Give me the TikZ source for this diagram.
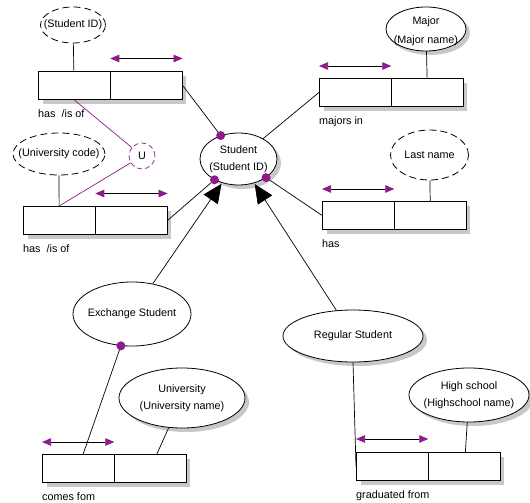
\documentclass[tikz,border=0pt]{standalone}
\usepackage{fontspec}
\setmainfont{Liberation Sans}
\usetikzlibrary{shapes.geometric,arrows.meta}
\definecolor{erpurple}{RGB}{140,28,140}
\definecolor{shadowgray}{RGB}{200,200,200}

\tikzset{
  roletip/.tip={Triangle[length=9pt,width=7.5pt,color=erpurple]},
  isatip/.tip={Triangle[length=19pt,width=17pt]},
}

\begin{document}
\begin{tikzpicture}[x=1pt,y=-1pt,
  every node/.style={font=\fontsize{10.8}{17.5}\selectfont},
  line/.style={line width=0.7pt},
  shadowfill/.style={fill=shadowgray, draw=none},
  ent/.style={ellipse, draw, line width=0.8pt, fill=white, inner sep=0pt},
  keyattr/.style={ent, dash pattern=on 7pt off 4pt},
  etext/.style={align=center, inner sep=0pt},
  cell/.style={rectangle, draw, line width=0.8pt, fill=white, minimum width=71.5pt,
    minimum height=28pt, inner sep=0pt, anchor=north west},
  role/.style={line width=0.7pt, roletip-roletip},
  rlabel/.style={anchor=north west, inner sep=0pt},
  dot/.style={circle, fill=erpurple, inner sep=0pt, minimum size=9pt},
  isa/.style={line width=0.7pt, -isatip, shorten >=1pt},
  uline/.style={draw=erpurple, line width=0.7pt},
]
\useasboundingbox (0,0) rectangle (530,503);

% ---------- grey shadows, drawn first so they sit behind ----------
\foreach \bx/\by in {38/71, 23/206, 319/78, 322/201, 42/454, 356/452}
  \path[shadowfill] (\bx+5,\by+5) rectangle ++(143,28);
\path[shadowfill] (242.5,163) ellipse [x radius=38.5, y radius=26];
\path[shadowfill] (430,33)    ellipse [x radius=40,   y radius=22];
\path[shadowfill] (186,402)   ellipse [x radius=63,   y radius=30];
\path[shadowfill] (357,340)   ellipse [x radius=70,   y radius=26];
\path[shadowfill] (473,399)   ellipse [x radius=60,   y radius=27];

% ---------- relationship boxes (two cells each) ----------
\node[cell] (r1-l) at (38,71) {};   \node[cell] (r1-r) at (r1-l.north east) {};
\node[cell] (r2-l) at (23,206) {};  \node[cell] (r2-r) at (r2-l.north east) {};
\node[cell] (r3-l) at (319,78) {};  \node[cell] (r3-r) at (r3-l.north east) {};
\node[cell] (r4-l) at (322,201) {}; \node[cell] (r4-r) at (r4-l.north east) {};
\node[cell] (r5-l) at (42,454) {};  \node[cell] (r5-r) at (r5-l.north east) {};
\node[cell] (r6-l) at (356,452) {}; \node[cell] (r6-r) at (r6-l.north east) {};

% role arrows above the boxes
\draw[role] ([yshift=12.5pt]r1-r.north west) -- ([yshift=12.5pt]r1-r.north east);
\draw[role] ([yshift=12.5pt]r2-r.north west) -- ([yshift=12.5pt]r2-r.north east);
\draw[role] ([yshift=12pt]r3-l.north west) -- ([yshift=12pt]r3-l.north east);
\draw[role] ([yshift=12pt]r4-l.north west) -- ([yshift=12pt]r4-l.north east);
\draw[role] ([yshift=12pt]r5-l.north west) -- ([yshift=12pt]r5-l.north east);
\draw[role] ([yshift=13pt]r6-l.north west) -- ([yshift=13pt]r6-l.north east);

% relationship labels
\node[rlabel] (l1) at ([yshift=-10pt]r1-l.south west) {has~~/is of};
\node[rlabel] (l2) at ([yshift=-10pt]r2-l.south west) {has~~/is of};
\node[rlabel] (l3) at ([yshift=-10pt]r3-l.south west) {majors in};
\node[rlabel] (l4) at ([yshift=-10pt]r4-l.south west) {has};
\node[rlabel] (l5) at ([yshift=-10pt]r5-l.south west) {comes fom};
\node[rlabel] (l6) at ([yshift=-10pt]r6-l.south west) {graduated from};

% ---------- entities and attributes ----------
\node[keyattr, minimum width=65pt, minimum height=36pt] (sid) at (73,25) {};
\node[etext] (sid-t) at (sid) {(Student ID)};
\node[keyattr, minimum width=92pt, minimum height=42pt] (ucode) at (59,154) {};
\node[etext] (ucode-t) at (ucode) {(University code)};
\node[ent, minimum width=77pt, minimum height=52pt] (student) at (238.5,159) {};
\node[etext] (student-t) at (student) {Student\\(Student ID)};
\node[ent, minimum width=80pt, minimum height=44pt] (major) at (426,29) {};
\node[etext, font=\fontsize{10.8}{19.5}\selectfont] (major-t) at ([yshift=-2pt]major.center) {Major\\(Major name)};
\node[keyattr, minimum width=78pt, minimum height=50pt] (lname) at (429.5,155) {};
\node[etext] (lname-t) at (lname) {Last name};
\node[ent, minimum width=118pt, minimum height=64pt] (exch) at (132,314) {};
\node[etext] (exch-t) at (exch) {Exchange Student};
\node[ent, minimum width=126pt, minimum height=60pt] (univ) at (182,398) {};
\node[etext] (univ-t) at (univ) {University\\(University name)};
\node[ent, minimum width=140pt, minimum height=52pt] (reg) at (353,336) {};
\node[etext] (reg-t) at (reg) {Regular Student};
\node[ent, minimum width=120pt, minimum height=54pt] (hs) at (469,395) {};
\node[etext] (hs-t) at (hs) {High school\\(Highschool name)};
\node[circle, draw=erpurple, dash pattern=on 5pt off 3pt, line width=0.7pt,
      minimum size=26pt, inner sep=0pt] (u) at (142,156) {U};

% ---------- connectors ----------
\draw[line] (sid) -- (r1-l);
\draw[line] (ucode) -- (r2-l);
\draw[line] (major) -- (r3-r);
\draw[line] (lname) -- (r4-r);
\draw[line] (univ) -- (r5-r);
\draw[line] (hs) -- (r6-r);

\draw[line] (r1-r.east) -- (student) node[pos=1, dot] (d1) {};
\draw[line] (r2-r.east) -- (student) node[pos=1, dot] (d2) {};
\draw[line] (r3-l.west) -- (student);
\draw[line] (r4-l.west) -- (student) node[pos=1, dot] (d4) {};
\draw[line] (exch) -- (r5-l) node[pos=0, dot] (d5) {};
\draw[line] (reg.south) -- (r6-l.west);

\draw[isa] (exch) -- (student);
\draw[isa] (reg) -- (student);

\draw[uline] (u) -- (r1-l.south);
\draw[uline] (u) -- (r2-l.north);
\end{tikzpicture}
\end{document}
